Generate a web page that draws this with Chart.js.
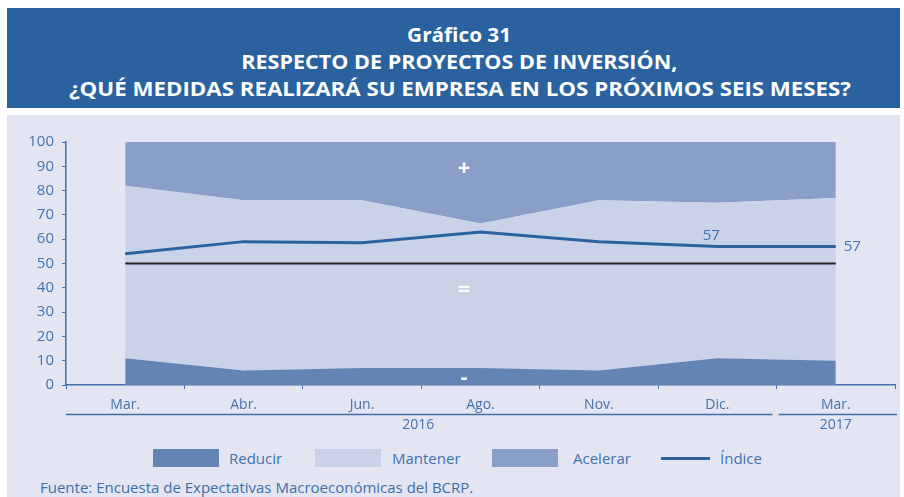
<!DOCTYPE html>
<html><head><meta charset="utf-8">
<script src="https://cdn.jsdelivr.net/npm/chart.js@4.4.1/dist/chart.umd.min.js"></script>
<style>
body{margin:0;width:904px;height:497px;background:#fff;position:relative;overflow:hidden;font-family:"Open Sans",sans-serif}
#title{position:absolute;left:7px;top:8px;width:893px;height:100px;background:#2a62a0;color:#fff;text-align:center;font-weight:bold;box-sizing:border-box;padding-top:13px;padding-left:12px}
#title div{line-height:27px;white-space:nowrap;font-size:20px}
#title span{display:inline-block;transform-origin:50% 50%}
#panel{position:absolute;left:7px;top:115px;width:893px;height:382px;background:#e3e6f2}
#chart{position:absolute;left:0;top:120px}
.lg{position:absolute;top:449px;height:18px}
.lt{position:absolute;top:447px;font-size:15px;color:#4272ad;line-height:22px}
#foot{position:absolute;left:40px;top:477px;font-size:15px;color:#3d6ea8;line-height:20px}
</style></head>
<body>
<div id="panel"></div>
<div id="title">
 <div><span data-w="104">Gráfico 31</span></div>
 <div><span data-w="436">RESPECTO DE PROYECTOS DE INVERSIÓN,</span></div>
 <div><span data-w="782">¿QUÉ MEDIDAS REALIZARÁ SU EMPRESA EN LOS PRÓXIMOS SEIS MESES?</span></div>
</div>
<canvas id="chart" width="904" height="320"></canvas>
<div id="legend"></div>
<div id="foot">Fuente: Encuesta de Expectativas Macroeconómicas del BCRP.</div>
<script>
const categories = ['Mar.','Abr.','Jun.','Ago.','Nov.','Dic.','Mar.'];
const years = ['2016','2017'];
const reducir  = [11, 6, 7, 7, 6, 11, 10];
const mantener = [71, 70, 69, 59.5, 70, 64, 67];
const acelerar = [18, 24, 24, 33.5, 24, 25, 23];
const indice   = [54, 59, 58.5, 63, 59, 57, 57];
const referencia = [50, 50, 50, 50, 50, 50, 50];
const seriesNames = ['Reducir','Mantener','Acelerar','Índice'];
const zoneMarks = ['+','=','-'];
const zoneValues = [89, 39, 3];
const zoneIndex = 2.86;

const C = {red:'#6484b6', man:'#c9d2e7', ace:'#8a9fc8', idx:'#2a63a0', txt:'#4272ad', axis:'#3f6fa8'};

// fit title line widths by horizontal stretch
document.querySelectorAll('#title span').forEach(s=>{
  const target=+s.dataset.w, w=s.getBoundingClientRect().width;
  s.style.transform='scaleX('+(target/w)+')';
});

// legend
const legend = document.getElementById('legend');
const lgBox = [[153,C.red],[315,C.man],[492,C.ace]];
const lgTxt = [229,392,573,720];
seriesNames.forEach((n,i)=>{
  const b=document.createElement('div');b.className='lg';
  if(i<3){b.style.left=lgBox[i][0]+'px';b.style.width='66px';b.style.background=lgBox[i][1];}
  else {b.style.left='661px';b.style.width='49px';b.style.height='3px';b.style.top='457px';b.style.background=C.idx;}
  legend.appendChild(b);
  const t=document.createElement('div');t.className='lt';t.style.left=lgTxt[i]+'px';t.textContent=n;legend.appendChild(t);
});

const extras = {
  id:'extras',
  afterDatasetsDraw(chart){
    const ctx=chart.ctx, x=chart.scales.x, y=chart.scales.y;
    ctx.save();
    ctx.fillStyle='#fff'; ctx.font='bold 22px "Open Sans"'; ctx.textAlign='center'; ctx.textBaseline='middle';
    zoneMarks.forEach((m,i)=>ctx.fillText(m, x.getPixelForValue(zoneIndex), y.getPixelForValue(zoneValues[i])));
    ctx.fillStyle=C.txt; ctx.font='15px "Open Sans"';
    const i5=5, i6=6;
    ctx.textAlign='center'; ctx.textBaseline='bottom';
    ctx.fillText(Math.round(indice[i5]), x.getPixelForValue(i5)-6, y.getPixelForValue(indice[i5])-3);
    ctx.textAlign='left'; ctx.textBaseline='middle';
    ctx.fillText(Math.round(indice[i6]), x.getPixelForValue(i6)+8, y.getPixelForValue(indice[i6]));
    ctx.restore();
  },
  afterDraw(chart){
    const ctx=chart.ctx, x=chart.scales.x;
    const half=(x.getPixelForValue(1)-x.getPixelForValue(0))/2;
    const b=x.getPixelForValue(5)+half;
    const ly=x.bottom-25.5, ty=x.bottom-15;
    ctx.save();
    ctx.strokeStyle=C.axis; ctx.lineWidth=1.5;
    ctx.beginPath(); ctx.moveTo(x.left,ly); ctx.lineTo(b-4,ly); ctx.stroke();
    ctx.beginPath(); ctx.moveTo(b+2,ly); ctx.lineTo(x.right+2,ly); ctx.stroke();
    ctx.fillStyle=C.txt; ctx.font='14px "Open Sans"'; ctx.textAlign='center'; ctx.textBaseline='middle';
    ctx.fillText(years[0], (x.left+b)/2 - 3, ty);
    ctx.fillText(years[1], (b+x.right)/2, ty);
    ctx.restore();
  }
};

new Chart(document.getElementById('chart'), {
  type:'line',
  data:{labels:categories, datasets:[
    {label:seriesNames[0], data:reducir, stack:'a', fill:'origin', backgroundColor:C.red, borderWidth:0, pointRadius:0, order:3},
    {label:seriesNames[1], data:mantener, stack:'a', fill:'-1', backgroundColor:C.man, borderWidth:0, pointRadius:0, order:3},
    {label:seriesNames[2], data:acelerar, stack:'a', fill:'-1', backgroundColor:C.ace, borderWidth:0, pointRadius:0, order:3},
    {label:'ref', data:referencia, stack:'r', fill:false, borderColor:'#222', borderWidth:2, pointRadius:0, order:2},
    {label:seriesNames[3], data:indice, stack:'i', fill:false, borderColor:C.idx, borderWidth:3, pointRadius:0, order:1}
  ]},
  options:{
    responsive:false, animation:false, devicePixelRatio:1,
    layout:{padding:{top:22,right:9,left:0,bottom:0}},
    plugins:{legend:{display:false}, tooltip:{enabled:false}},
    elements:{line:{tension:0}},
    scales:{
      x:{offset:true, grid:{offset:true, drawOnChartArea:false, tickLength:4, color:C.axis}, border:{color:C.axis, width:1.5},
         ticks:{color:C.txt, font:{family:'Open Sans', size:14}, padding:8, maxRotation:0, autoSkip:false},
         afterFit(s){s.height=55;}},
      y:{stacked:true, min:0, max:100, grid:{drawOnChartArea:false, tickLength:4, color:C.axis}, border:{color:C.axis, width:1.5},
         ticks:{stepSize:10, color:C.txt, font:{family:'Open Sans', size:15}, padding:8},
         afterFit(s){s.width=66;}}
    }
  },
  plugins:[extras]
});
</script>
</body></html>
